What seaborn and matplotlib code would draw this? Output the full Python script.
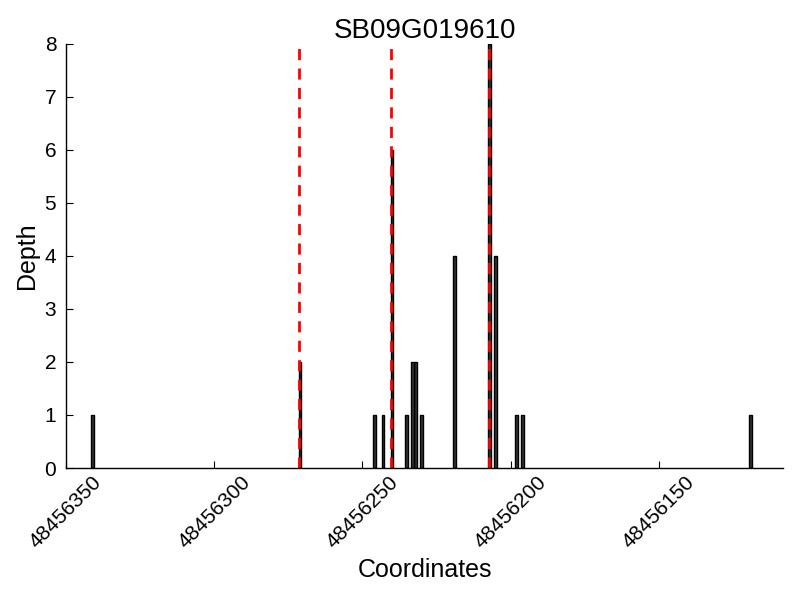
import matplotlib
matplotlib.use("Agg")
import matplotlib.pyplot as plt
import matplotlib.ticker as mticker
import seaborn as sns
import pandas as pd

# Valores
coordenadas = [48456341, 48456271, 48456246, 48456243, 48456240, 48456235,
               48456233, 48456232, 48456230, 48456219, 48456207, 48456205,
               48456198, 48456196, 48456119]
profundidade = [1, 2, 1, 1, 6, 1, 2, 2, 1, 4, 8, 4, 1, 1, 1]
linhas_corte = [48456271, 48456240, 48456207]
ticks_x = [48456350, 48456300, 48456250, 48456200, 48456150]
titulo = 'SB09G019610'

df = pd.DataFrame({'Coordinates': coordenadas, 'Depth': profundidade})

sns.set_theme(style="ticks")
plt.rcParams['font.family'] = ['Liberation Sans', 'DejaVu Sans']
plt.rcParams['text.color'] = 'black'
plt.rcParams['axes.labelcolor'] = 'black'

fig = plt.figure(figsize=(8, 6), dpi=100)
ax = fig.add_axes([0.0825, 0.22, 0.8965, 0.7067])

sns.barplot(
    data=df,
    x='Coordinates',
    y='Depth',
    native_scale=True,
    width=0.9,
    color='#333333',
    saturation=1,
    edgecolor='black',
    linewidth=1,
    errorbar=None,
    ax=ax
)

for pos in linhas_corte:
    ax.axvline(pos + 0.3, color='red', linestyle='--', linewidth=2, dashes=(4, 3))

ax.set_xlim(48456350, 48456108)
ax.set_ylim(0, 8)
ax.set_xticks(ticks_x)
ax.xaxis.set_major_formatter(mticker.FormatStrFormatter('%d'))
ax.set_yticks(range(0, 9))

ax.set_title(titulo, fontsize=20, pad=2, color='black')
ax.set_xlabel('Coordinates', fontsize=18, color='black')
ax.set_ylabel('Depth', fontsize=18, color='black')
ax.tick_params(direction='in', labelsize=15, length=5, width=0.8, colors='black')
ax.tick_params(axis='y', pad=7)
for lab in ax.get_xticklabels():
    lab.set_rotation(45)
    lab.set_ha('center')

sns.despine(ax=ax)
for s in ['left', 'bottom']:
    ax.spines[s].set_color('black')
    ax.spines[s].set_linewidth(1)

plt.savefig('out.png', dpi=100)
